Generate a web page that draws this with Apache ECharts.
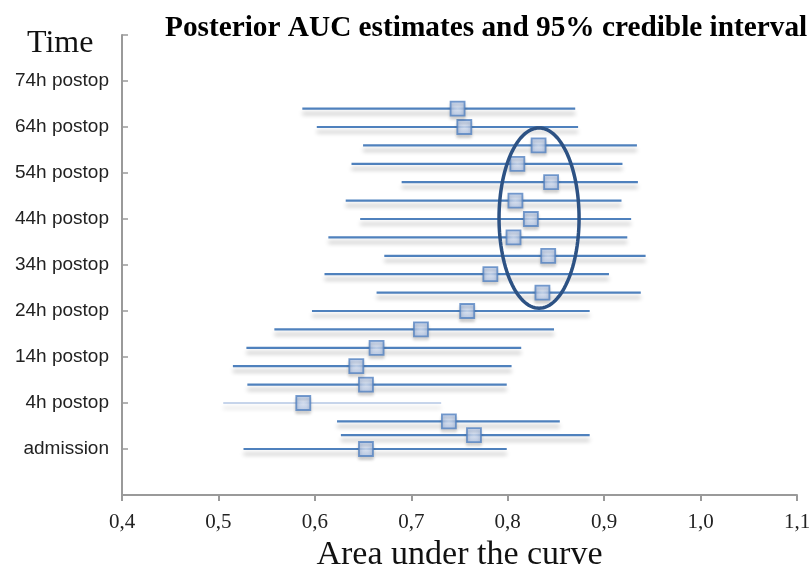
<!DOCTYPE html>
<html>
<head>
<meta charset="utf-8">
<script src="https://cdn.jsdelivr.net/npm/echarts@6/dist/echarts.min.js"></script>
<style>
  html, body { margin: 0; padding: 0; background: #ffffff; }
  #chart { width: 810px; height: 566px; }
</style>
</head>
<body>
<div id="chart"></div>
<script>
// Hours relative to the postoperative timeline (admission = -6h)
var timeHours = [-6, -3, 0, 4, 8, 12, 16, 20, 24, 28, 32, 36, 40, 44, 48, 52, 56, 60, 64, 68];
// Posterior AUC point estimates
var aucEstimate = [0.653, 0.765, 0.739, 0.588, 0.653, 0.643, 0.664, 0.710, 0.758, 0.836,
                   0.782, 0.842, 0.806, 0.824, 0.808, 0.845, 0.810, 0.832, 0.755, 0.748];
// 95% credible interval bounds
var aucLower = [0.526, 0.627, 0.623, 0.505, 0.530, 0.515, 0.529, 0.558, 0.597, 0.664,
                0.610, 0.672, 0.614, 0.647, 0.632, 0.690, 0.638, 0.650, 0.602, 0.587];
var aucUpper = [0.799, 0.885, 0.854, 0.731, 0.799, 0.804, 0.814, 0.848, 0.885, 0.938,
                0.905, 0.943, 0.924, 0.928, 0.918, 0.935, 0.919, 0.934, 0.873, 0.870];
// Time axis tick labels, one per 10h step starting at -16h
var timeTickLabels = ['', 'admission', '4h postop', '14h postop', '24h postop', '34h postop',
                      '44h postop', '54h postop', '64h postop', '74h postop', ''];
// Highlighted cluster: [centre AUC, centre hour, AUC radius, hour radius]
var highlightEllipse = [0.8325, 44.2, 0.0415, 19.6];

// The time axis starts at -16h; shift hours so the axis minimum is 0
var HOUR_OFFSET = 16;

var whiskerData = timeHours.map(function (h, i) {
  return [aucLower[i], h + HOUR_OFFSET, aucUpper[i], i];
});
var pointData = timeHours.map(function (h, i) {
  return [aucEstimate[i], h + HOUR_OFFSET];
});

var serif = '"Liberation Serif", "Times New Roman", serif';
var sans = '"Liberation Sans", Arial, sans-serif';

var chart = echarts.init(document.getElementById('chart'), null, { renderer: 'canvas' });

chart.setOption({
  animation: false,
  backgroundColor: '#ffffff',
  title: [
    {
      text: 'Posterior AUC estimates and 95% credible interval',
      left: 165, top: 14, padding: 0,
      textStyle: { fontFamily: serif, fontWeight: 'bold', fontSize: 29.3, color: '#000' }
    },
    {
      text: 'Time',
      left: 27, top: 28, padding: 0,
      textStyle: { fontFamily: serif, fontWeight: 'normal', fontSize: 32, color: '#111' }
    }
  ],
  grid: { left: 122, right: 13, top: 35, bottom: 71, containLabel: false, outerBoundsMode: 'none' },
  xAxis: {
    type: 'value',
    min: 0.4, max: 1.1, interval: 0.1,
    name: 'Area under the curve',
    nameLocation: 'middle',
    nameGap: 40,
    nameTextStyle: { fontFamily: serif, fontSize: 34, color: '#111' },
    axisLine: { show: true, lineStyle: { color: '#9a9a9a', width: 2 } },
    axisTick: { show: true, inside: false, length: 6, lineStyle: { color: '#9a9a9a', width: 2 } },
    axisLabel: {
      margin: 17,
      fontFamily: serif, fontSize: 21, color: '#222',
      formatter: function (v) { return v.toFixed(1).replace('.', ','); }
    },
    splitLine: { show: false }
  },
  yAxis: {
    type: 'value',
    min: 0, max: 100, interval: 10,
    axisLine: { show: true, lineStyle: { color: '#9a9a9a', width: 2 } },
    axisTick: { show: true, inside: true, length: 6, lineStyle: { color: '#9a9a9a', width: 1.5 } },
    axisLabel: {
      margin: 13,
      fontFamily: sans, fontSize: 19, color: '#222',
      formatter: function (v) {
        var idx = Math.round(v / 10);
        return timeTickLabels[idx] || '';
      }
    },
    splitLine: { show: false }
  },
  series: [
    {
      // credible interval whiskers
      type: 'custom',
      data: whiskerData,
      encode: { x: [0, 2], y: 1 },
      z: 2,
      renderItem: function (params, api) {
        var p1 = api.coord([api.value(0), api.value(1)]);
        var p2 = api.coord([api.value(2), api.value(1)]);
        var thin = timeHours[api.value(3)] === 4;
        return {
          type: 'line',
          shape: { x1: p1[0], y1: p1[1], x2: p2[0], y2: p2[1] },
          style: {
            stroke: thin ? '#8eaad6' : '#4f81bd',
            lineWidth: thin ? 1 : 2.2,
            shadowColor: 'rgba(0,0,0,0.28)',
            shadowBlur: 4,
            shadowOffsetY: 5
          }
        };
      }
    },
    {
      // posterior point estimates
      type: 'scatter',
      data: pointData,
      symbol: 'rect',
      symbolSize: 14,
      z: 4,
      itemStyle: {
        color: {
          type: 'radial', x: 0.5, y: 0.5, r: 0.7,
          colorStops: [
            { offset: 0, color: '#dbe5f6' },
            { offset: 1, color: '#a4bce4' }
          ]
        },
        borderColor: '#5583c2',
        borderWidth: 1.8,
        shadowColor: 'rgba(0,0,0,0.2)',
        shadowBlur: 3,
        shadowOffsetY: 3
      }
    },
    {
      // highlighted cluster outline
      type: 'custom',
      data: [highlightEllipse],
      z: 5,
      renderItem: function (params, api) {
        var cx = api.value(0), cy = api.value(1) + HOUR_OFFSET;
        var rx = api.value(2), ry = api.value(3);
        var pts = [];
        for (var k = 0; k < 120; k++) {
          var t = (k / 120) * Math.PI * 2;
          pts.push(api.coord([cx + rx * Math.cos(t), cy + ry * Math.sin(t)]));
        }
        return {
          type: 'polygon',
          shape: { points: pts },
          style: { fill: 'none', stroke: '#2d5284', lineWidth: 3.5 }
        };
      }
    }
  ]
});
</script>
</body>
</html>
